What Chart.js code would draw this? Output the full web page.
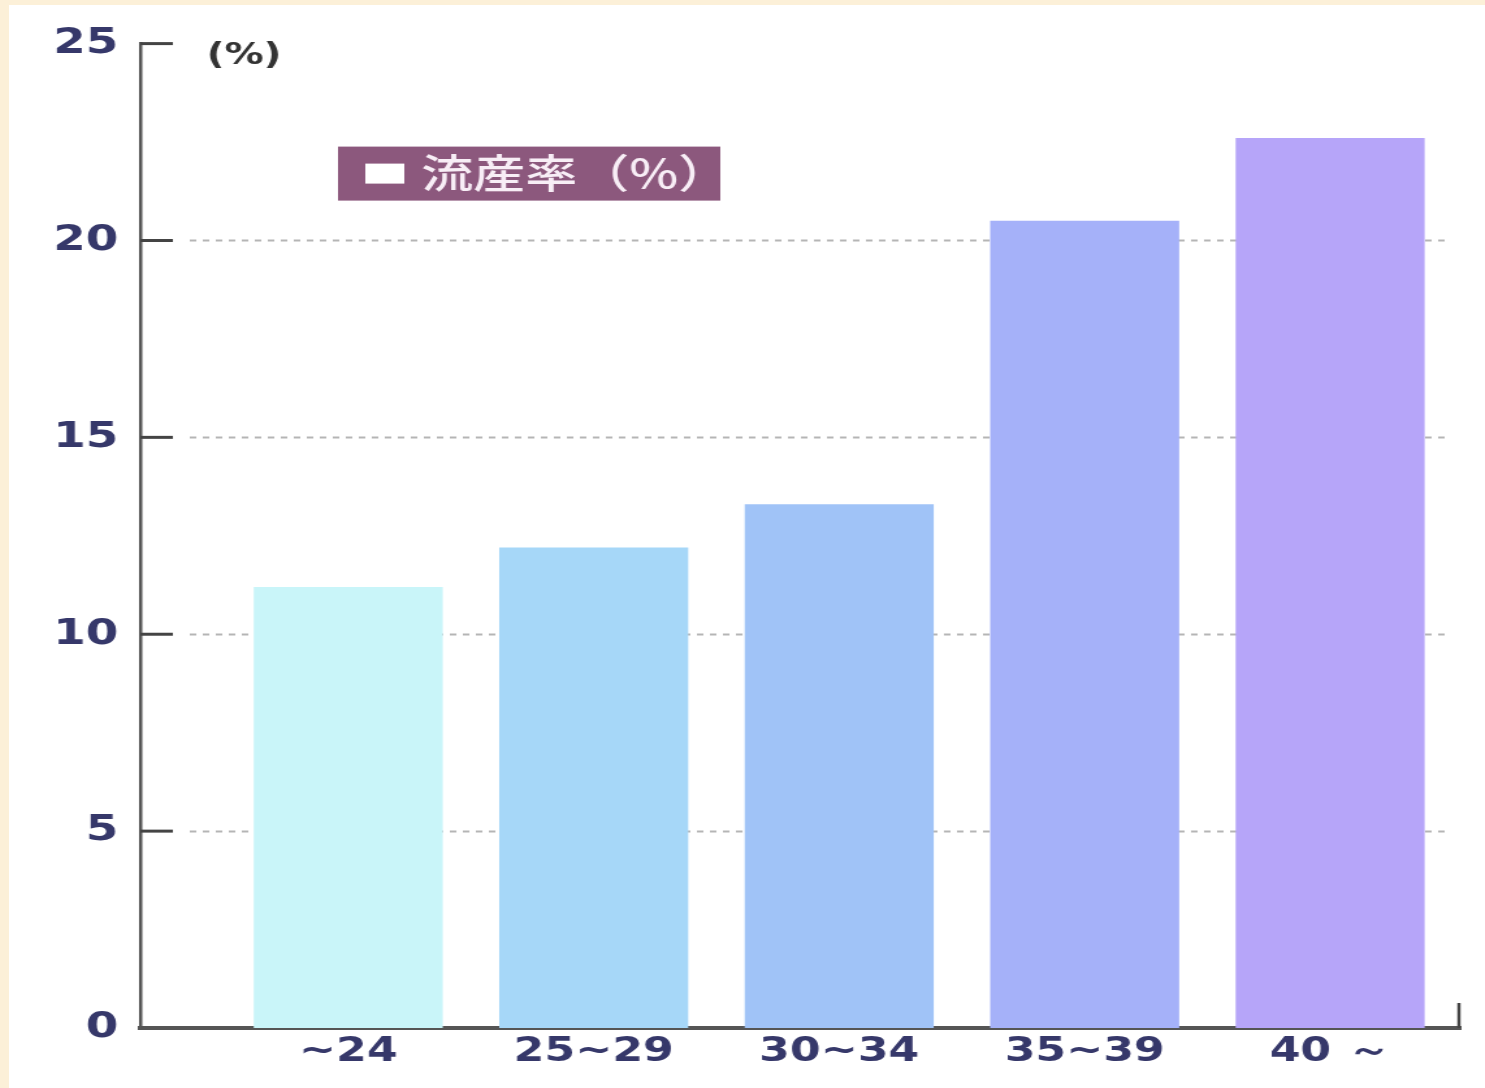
<!DOCTYPE html>
<html>
<head>
<meta charset="utf-8">
<script src="https://cdn.jsdelivr.net/npm/chart.js@4/dist/chart.umd.min.js"></script>
<style>
  html,body{margin:0;padding:0;}
  body{background:#fcf0d8;width:1485px;height:1088px;overflow:hidden;position:relative;}
  #wrap{position:absolute;left:9px;top:5px;width:1476px;height:1083px;background:#ffffff;overflow:hidden;}
  #c{display:block;transform:scaleX(1.3004);transform-origin:0 0;}
</style>
</head>
<body>
<div id="wrap"><canvas id="c" width="1135" height="1083"></canvas></div>
<script>
// ---- data ----
const categories = ['~24', '25~29', '30~34', '35~39', '40 ～'];
const missRate = [11.2, 12.2, 13.3, 20.5, 22.6];
const barColors = ['#c9f5f9', '#a6d7f8', '#a0c3f7', '#a5b1f9', '#b6a5f9'];
const yTicks = [0, 5, 10, 15, 20, 25];
const seriesLabel = '流産率（%）';
const unitLabel = '(%)';

const points = missRate.map((v, i) => ({x: i, y: v}));

const deco = {
  id: 'deco',
  beforeDatasetsDraw(chart) {
    const {ctx, chartArea: a, scales: {y}} = chart;
    ctx.save();
    ctx.strokeStyle = '#b5b5b5';
    ctx.lineWidth = 2;
    ctx.setLineDash([5, 5]);
    yTicks.forEach(t => {
      if (t === 0 || t === 25) return;
      const py = Math.round(y.getPixelForValue(t)) + 0.5;
      ctx.beginPath();
      ctx.moveTo(a.left + 38, py);
      ctx.lineTo(a.right - 8, py);
      ctx.stroke();
    });
    ctx.restore();
  },
  afterDraw(chart) {
    const {ctx, chartArea: a, scales: {y}} = chart;
    ctx.save();
    // inner ticks
    ctx.strokeStyle = '#444';
    ctx.lineWidth = 3;
    yTicks.forEach(t => {
      if (t === 0) return;
      const py = y.getPixelForValue(t);
      ctx.beginPath();
      ctx.moveTo(a.left, py);
      ctx.lineTo(a.left + 25, py);
      ctx.stroke();
    });
    // right end tick
    ctx.lineWidth = 2.5;
    ctx.beginPath();
    ctx.moveTo(a.right - 1, a.bottom);
    ctx.lineTo(a.right - 1, a.bottom - 25);
    ctx.stroke();
    // unit label
    ctx.fillStyle = '#333';
    ctx.font = 'bold 30px "DejaVu Sans"';
    ctx.textBaseline = 'middle';
    ctx.textAlign = 'left';
    ctx.fillText(unitLabel, a.left + 51, a.top + 13);
    // legend box
    const bx = a.left + 152, by = a.top + 103;
    ctx.fillStyle = '#8c587d';
    ctx.fillRect(bx, by, 294, 54);
    ctx.fillStyle = '#ffffff';
    ctx.fillRect(bx + 21, by + 17, 30, 20);
    ctx.fillStyle = '#f8eef6';
    ctx.font = '500 40px "Noto Sans CJK JP"';
    ctx.fillText(chart.data.datasets[0].label, bx + 64, by + 26);
    ctx.restore();
  }
};

new Chart(document.getElementById('c'), {
  type: 'bar',
  data: {
    datasets: [{
      label: seriesLabel,
      data: points,
      backgroundColor: barColors,
      borderWidth: 0,
      barPercentage: 0.77,
      categoryPercentage: 1.0
    }]
  },
  options: {
    responsive: false,
    animation: false,
    devicePixelRatio: 1,
    layout: {padding: {top: 37, right: 19, left: 0, bottom: 0}},
    plugins: {legend: {display: false}, tooltip: {enabled: false}},
    scales: {
      x: {
        type: 'linear',
        offset: false,
        min: -0.847,
        max: 4.53,
        grid: {display: false, drawTicks: false, offset: false},
        border: {display: true, color: '#555', width: 4},
        afterBuildTicks: s => { s.ticks = categories.map((c, i) => ({value: i})); },
        afterFit: s => { s.height = 60; },
        ticks: {
          autoSkip: false,
          maxRotation: 0,
          padding: 4,
          color: '#36386a',
          font: {family: '"DejaVu Sans"', weight: 'bold', size: 34},
          callback: v => categories[v]
        }
      },
      y: {
        min: 0,
        max: 25,
        afterBuildTicks: s => { s.ticks = yTicks.map(v => ({value: v})); },
        afterFit: s => { s.width = 101; },
        grid: {display: false, drawTicks: false},
        border: {display: true, color: '#555', width: 2.5},
        ticks: {
          padding: 17,
          color: '#36386a',
          font: {family: '"DejaVu Sans"', weight: 'bold', size: 36}
        }
      }
    }
  },
  plugins: [deco]
});
</script>
</body>
</html>
